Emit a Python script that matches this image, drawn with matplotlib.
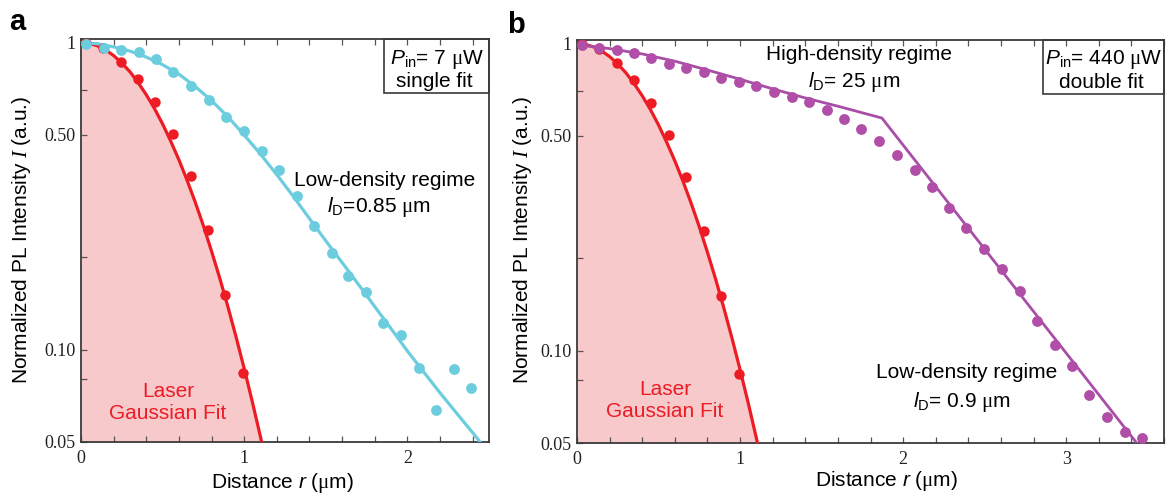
import matplotlib
matplotlib.use("Agg")
import matplotlib.pyplot as plt
from matplotlib.patches import Rectangle
from matplotlib.ticker import FixedLocator, FixedFormatter, NullFormatter, MultipleLocator

plt.rcParams['font.family'] = ['Liberation Sans', 'DejaVu Sans']
plt.rcParams['mathtext.fontset'] = 'custom'
plt.rcParams['mathtext.rm'] = 'Liberation Sans'
plt.rcParams['mathtext.it'] = 'Liberation Serif:italic'
plt.rcParams['mathtext.sf'] = 'Liberation Sans:italic'
plt.rcParams['mathtext.tt'] = 'Liberation Serif'

# ---- measured radial profiles (distance r in um, normalized intensity) ----
laser_r = [0.032, 0.135, 0.243, 0.349, 0.455, 0.563, 0.671, 0.778, 0.884, 0.992]
laser_I = [1.0, 0.958, 0.866, 0.760, 0.641, 0.505, 0.367, 0.245, 0.151, 0.0837]

low_r = [0.031, 0.141, 0.245, 0.355, 0.459, 0.563, 0.673, 0.783, 0.887, 0.997,
         1.107, 1.211, 1.321, 1.425, 1.535, 1.639, 1.749, 1.853, 1.963, 2.073,
         2.177, 2.287, 2.391]
low_I = [0.99, 0.963, 0.947, 0.935, 0.881, 0.803, 0.723, 0.651, 0.572, 0.514,
         0.443, 0.384, 0.317, 0.2525, 0.206, 0.174, 0.154, 0.1224, 0.1113, 0.0872,
         0.0638, 0.0863, 0.0751]

high_r = [0.032, 0.135, 0.243, 0.349, 0.455, 0.563, 0.671, 0.778, 0.884, 0.992,
          1.100, 1.208, 1.317, 1.424, 1.531, 1.637, 1.744, 1.851, 1.960, 2.070,
          2.176, 2.282, 2.388, 2.498, 2.606, 2.715, 2.823, 2.931, 3.037, 3.143,
          3.252, 3.358, 3.466]
high_I = [0.987, 0.970, 0.956, 0.935, 0.900, 0.861, 0.833, 0.809, 0.773, 0.750,
          0.728, 0.694, 0.671, 0.643, 0.606, 0.569, 0.527, 0.480, 0.433, 0.387,
          0.341, 0.292, 0.250, 0.215, 0.184, 0.156, 0.125, 0.104, 0.0889, 0.0715,
          0.0606, 0.0543, 0.0519]

# ---- fitted curves ----
gauss_fit_r = [0.0, 0.05, 0.10, 0.15, 0.20, 0.25, 0.30, 0.35, 0.40, 0.45, 0.50, 0.55,
               0.60, 0.65, 0.70, 0.75, 0.80, 0.85, 0.90, 0.95, 1.00, 1.05, 1.10, 1.15]
gauss_fit_I = [1.0, 0.994, 0.976, 0.947, 0.907, 0.858, 0.803, 0.741, 0.676, 0.610,
               0.543, 0.477, 0.415, 0.356, 0.302, 0.253, 0.209, 0.171, 0.138, 0.110,
               0.0867, 0.0675, 0.0519, 0.0394]

single_fit_r = [0.0, 0.1, 0.2, 0.3, 0.4, 0.5, 0.6, 0.7, 0.8, 0.9, 1.0, 1.1, 1.2,
                1.3, 1.4, 1.5, 1.6, 1.7, 1.8, 1.9, 2.0, 2.1, 2.2, 2.3, 2.4, 2.5]
single_fit_I = [1.0, 0.991, 0.968, 0.938, 0.897, 0.847, 0.789, 0.719, 0.647, 0.573,
                0.500, 0.433, 0.371, 0.316, 0.267, 0.226, 0.192, 0.163, 0.138, 0.117,
                0.0989, 0.0845, 0.0723, 0.0622, 0.0536, 0.0461]

double_fit_r = [0.0, 0.2, 0.4, 0.6, 0.8, 1.0, 1.2, 1.4, 1.6, 1.87, 3.5]
double_fit_I = [0.99, 0.963, 0.925, 0.876, 0.820, 0.765, 0.712, 0.665, 0.625, 0.572, 0.045]

y_major = [0.05, 0.10, 0.50, 1.0]
y_major_labels = ['0.05', '0.10', '0.50', '1']
y_minor = [0.08, 0.2, 0.7]

RED = '#ed1c24'
FILL = '#f7c9cb'
CYAN = '#6ccddf'
PURPLE = '#a94ea6'
PURPLE_DOT = '#b04ea8'
SPINE = '#3a3a3a'
Y_BOTTOM, Y_TOP = 0.05, 1.027
MU = r'$\mathtt{\mu}$'

W, H = 1168, 497
fig = plt.figure(figsize=(W / 100, H / 100), dpi=100)
axA = fig.add_axes([81 / W, 1 - 442 / H, 408 / W, 403 / H])
axB = fig.add_axes([577 / W, 1 - 443 / H, 587 / W, 403 / H])


def style(ax, xmax, xticks):
    ax.set_yscale('log')
    ax.set_xlim(0, xmax)
    ax.set_ylim(Y_BOTTOM, Y_TOP)
    ax.yaxis.set_major_locator(FixedLocator(y_major))
    ax.yaxis.set_major_formatter(FixedFormatter(y_major_labels))
    ax.yaxis.set_minor_locator(FixedLocator(y_minor))
    ax.yaxis.set_minor_formatter(NullFormatter())
    ax.xaxis.set_major_locator(FixedLocator(xticks))
    ax.xaxis.set_major_formatter(FixedFormatter([str(t) for t in xticks]))
    ax.xaxis.set_minor_locator(MultipleLocator(0.2))
    ax.tick_params(which='both', direction='in', length=4.5, width=0.9,
                   color='#555555', top=True, right=False, labelsize=13,
                   labelfontfamily='Liberation Serif', labelcolor='#222222')
    ax.tick_params(axis='x', pad=6)
    ax.tick_params(axis='y', pad=4)
    for s in ax.spines.values():
        s.set_linewidth(1.3)
        s.set_color(SPINE)


def laser(ax, text_xy):
    ax.fill_between(gauss_fit_r, Y_BOTTOM, gauss_fit_I, color=FILL, lw=0, zorder=1)
    ax.plot(gauss_fit_r, gauss_fit_I, color=RED, lw=2.3, zorder=3)
    ax.plot(laser_r, laser_I, 'o', color=RED, ms=7.5, mec='none', zorder=4)
    ax.text(*text_xy, 'Laser\nGaussian Fit', transform=ax.transAxes, color=RED,
            fontsize=15, ha='center', va='center', linespacing=1.2, zorder=5)


def inset_box(ax, x0, y0, w, h, lines):
    ax.add_patch(Rectangle((x0, y0), w, h, transform=ax.transAxes, fill=False,
                           lw=1.2, ec=SPINE, zorder=6, clip_on=False))
    for (tx, ty, s) in lines:
        ax.text(tx, ty, s, transform=ax.transAxes, fontsize=15, ha='center',
                va='center', zorder=7)


# ---- panel a : low excitation, single fit ----
style(axA, 2.5, [0, 1, 2])
laser(axA, (0.213, 0.098))
axA.plot(single_fit_r, single_fit_I, color=CYAN, lw=2.3, zorder=3)
axA.plot(low_r, low_I, 'o', color=CYAN, ms=7.8, mec='none', zorder=4)
axA.text(0.743, 0.650, 'Low-density regime', transform=axA.transAxes,
         fontsize=15, ha='center', va='center')
axA.text(0.730, 0.583, r'$\mathsf{l}_{\mathrm{D}}$=0.85 ' + MU + 'm', transform=axA.transAxes,
         fontsize=15, ha='center', va='center')
inset_box(axA, 0.743, 0.866, 0.257, 0.134,
          [(0.872, 0.950, r'$\mathsf{P}_{\mathrm{in}}$= 7 ' + MU + 'W'),
           (0.867, 0.895, 'single fit')])

# ---- panel b : high excitation, double fit ----
style(axB, 3.6, [0, 1, 2, 3])
laser(axB, (0.150, 0.105))
axB.plot(double_fit_r, double_fit_I, color=PURPLE, lw=2.0, zorder=3)
axB.plot(high_r, high_I, 'o', color=PURPLE_DOT, ms=7.8, mec='none', zorder=4)
axB.text(0.480, 0.965, 'High-density regime', transform=axB.transAxes,
         fontsize=15, ha='center', va='center')
axB.text(0.472, 0.895, r'$\mathsf{l}_{\mathrm{D}}$= 25 ' + MU + 'm', transform=axB.transAxes,
         fontsize=15, ha='center', va='center')
axB.text(0.663, 0.174, 'Low-density regime', transform=axB.transAxes,
         fontsize=15, ha='center', va='center')
axB.text(0.656, 0.102, r'$\mathsf{l}_{\mathrm{D}}$= 0.9 ' + MU + 'm', transform=axB.transAxes,
         fontsize=15, ha='center', va='center')
inset_box(axB, 0.794, 0.865, 0.206, 0.135,
          [(0.898, 0.952, r'$\mathsf{P}_{\mathrm{in}}$= 440 ' + MU + 'W'),
           (0.893, 0.895, 'double fit')])

# ---- axis titles and panel letters ----
ylab = r'Normalized PL Intensity $I$ (a.u.)'
xlab = r'Distance $\mathsf{r}$ (' + MU + 'm)'
fig.text(22 / W, 1 - 240 / H, ylab, rotation=90, fontsize=15, ha='center', va='center')
fig.text(522 / W, 1 - 240 / H, ylab, rotation=90, fontsize=15, ha='center', va='center')
fig.text(282 / W, 1 - 483 / H, xlab, fontsize=15, ha='center', va='center')
fig.text(886 / W, 1 - 481 / H, xlab, fontsize=15, ha='center', va='center')
fig.text(9 / W, 1 - 30 / H, 'a', fontsize=21, fontweight='bold', ha='left', va='baseline')
fig.text(507 / W, 1 - 33 / H, 'b', fontsize=21, fontweight='bold', ha='left', va='baseline')

fig.savefig('out.png', dpi=100)
